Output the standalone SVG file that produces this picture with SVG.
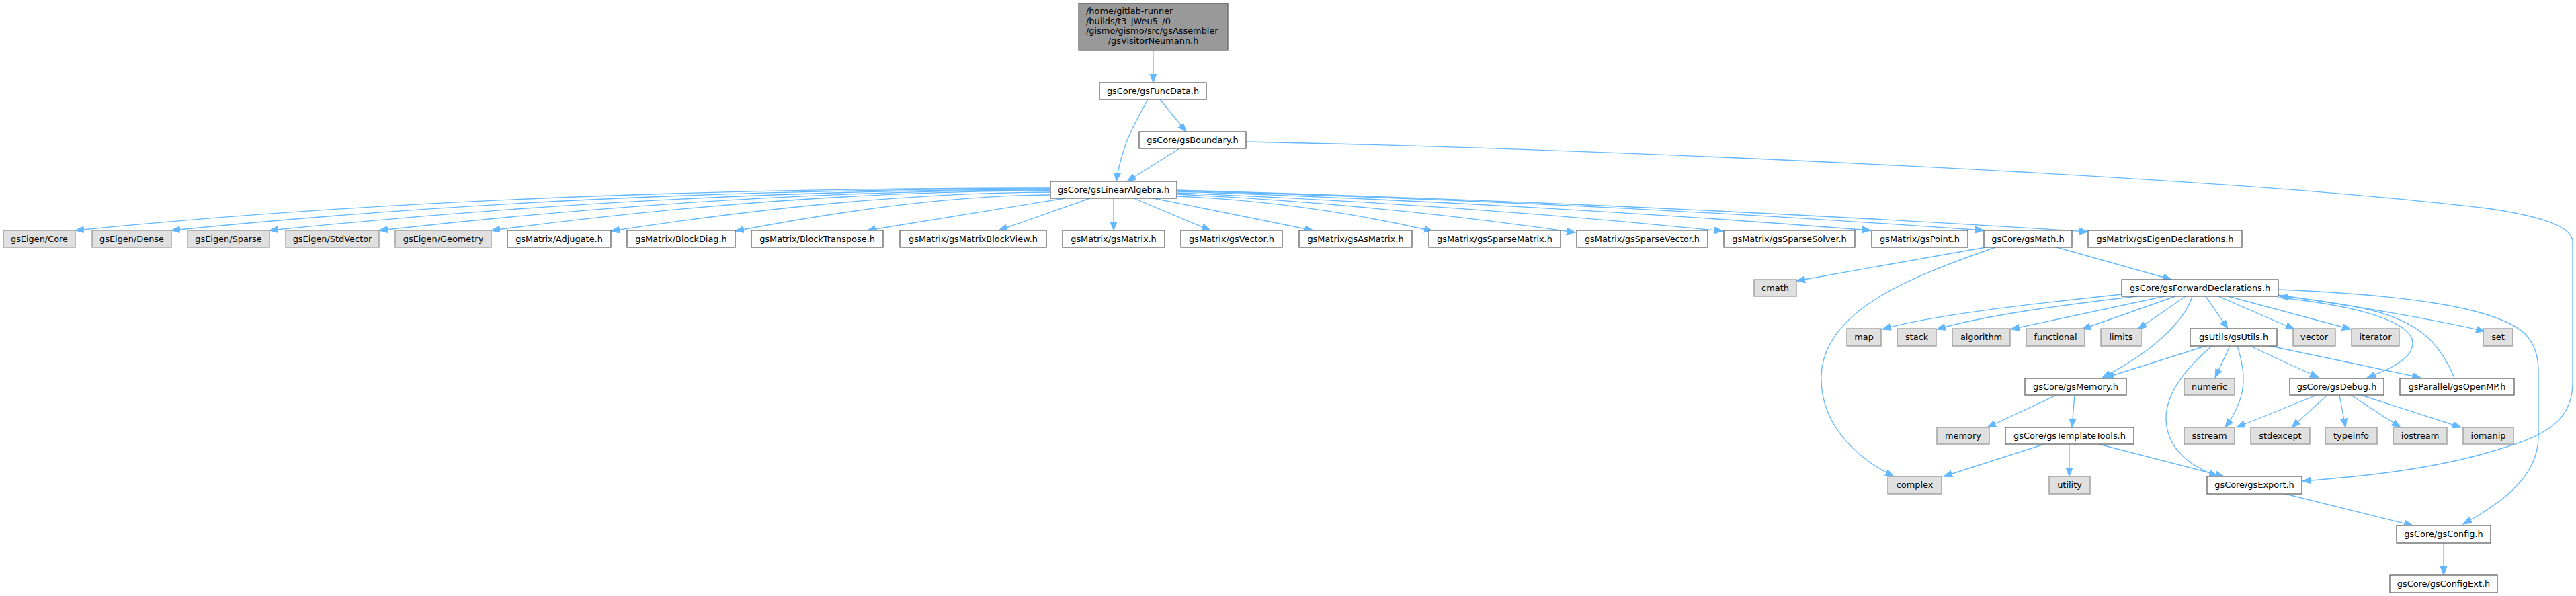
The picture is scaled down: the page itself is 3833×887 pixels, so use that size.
<svg xmlns="http://www.w3.org/2000/svg" width="3833" height="887" viewBox="0 0 3833 887">
<style>
text{font-family:"DejaVu Sans","Liberation Sans",sans-serif;font-size:12.9px;fill:#000;text-anchor:middle}
.n rect{fill:#fff;stroke:#666;stroke-width:1.33}
.x rect{fill:#e0e0e0;stroke:#999;stroke-width:1.33}
.r rect{fill:#999;stroke:#666;stroke-width:1.33}
#edges path{fill:none;stroke:#63b8ff;stroke-width:1.33;marker-end:url(#ah)}
</style>
<defs>
<marker id="ah" markerUnits="userSpaceOnUse" markerWidth="14" markerHeight="11" refX="13" refY="5" orient="auto">
<path d="M0,0 L13,5 L0,10 z" fill="#63b8ff" stroke="#63b8ff" stroke-width="1"/>
</marker>
</defs>
<rect width="3833" height="887" fill="#fff"/>
<g id="edges">
<path d="M1716,75 L1716,123"/>
<path d="M1708,148 C1690,180 1680,200 1675,215 C1668,235 1663,255 1661,270"/>
<path d="M1726,148 L1765,196"/>
<path d="M1755,221 L1677,270"/>
<path d="M1854,211 C2400,222 3300,262 3700,310 Q3828,328 3828,360 L3828,570 C3828,630 3780,650 3720,668 C3620,700 3500,710 3426,716"/>
<path d="M1563,280 Q742,280 112,343"/>
<path d="M1563,281 Q870,281 255,343"/>
<path d="M1563,282 Q1000,282 401,343"/>
<path d="M1563,283 Q1100,283 564,343"/>
<path d="M1563,284 Q1180,284 731,343"/>
<path d="M1563,286 Q1280,287 909,344"/>
<path d="M1563,290 Q1370,291 1094,344"/>
<path d="M1585,295 L1290,343"/>
<path d="M1622,295 L1486,343"/>
<path d="M1657,295 L1657,343"/>
<path d="M1687,295 L1801,343"/>
<path d="M1716,295 L1954,343"/>
<path d="M1751,292 Q1940,300 2132,344"/>
<path d="M1751,289 Q2047,303 2344,346"/>
<path d="M1751,287 Q2157,303 2564,344"/>
<path d="M1751,285 Q2267,302 2784,343"/>
<path d="M1751,284 Q2351,300 2952,343"/>
<path d="M1751,283 Q2429,302 3107,345"/>
<path d="M2955,368 L2673,418"/>
<path d="M2969,368 C2850,410 2712,460 2710,560 C2708,640 2775,688 2818,709"/>
<path d="M3060,368 L3231,416"/>
<path d="M3157,438 C3000,455 2870,470 2801,490"/>
<path d="M3180,441 C3060,455 2950,470 2882,490"/>
<path d="M3221,441 L2992,490"/>
<path d="M3237,441 L3098,490"/>
<path d="M3252,441 L3181,490"/>
<path d="M3282,441 L3315,489"/>
<path d="M3301,441 L3414,490"/>
<path d="M3315,441 L3498,490"/>
<path d="M3390,439 C3500,455 3620,475 3697,493"/>
<path d="M3262,441 C3250,480 3200,525 3128,562"/>
<path d="M3390,443 C3480,452 3570,470 3588,502 C3598,525 3570,545 3522,562"/>
<path d="M3652,562 C3630,510 3600,480 3530,462 C3480,450 3430,445 3392,441"/>
<path d="M3390,431 C3560,438 3720,455 3760,500 Q3777,520 3777,550 L3777,650 C3777,710 3720,750 3665,780"/>
<path d="M3282,515 L3133,562"/>
<path d="M3291,515 C3245,555 3222,590 3223,625 C3225,670 3262,695 3300,709"/>
<path d="M3318,515 L3296,562"/>
<path d="M3329,515 C3342,555 3345,590 3311,636"/>
<path d="M3348,515 L3450,562"/>
<path d="M3378,515 L3602,562"/>
<path d="M3060,588 L2957,636"/>
<path d="M3087,588 L3083,636"/>
<path d="M3042,661 L2892,709"/>
<path d="M3079,661 L3079,709"/>
<path d="M3123,661 L3309,709"/>
<path d="M3447,588 L3328,636"/>
<path d="M3463,588 L3410,636"/>
<path d="M3481,588 L3490,636"/>
<path d="M3498,588 L3572,636"/>
<path d="M3513,588 L3662,636"/>
<path d="M3400,735 L3590,782"/>
<path d="M3636,808 L3636,856"/>
</g>
<g id="root" class="r"><rect x="1605" y="5" width="222" height="70"/>
<text x="1616" y="21" style="text-anchor:start">/home/gitlab-runner</text>
<text x="1616" y="35.7" style="text-anchor:start">/builds/t3_JWeu5_/0</text>
<text x="1616" y="50.4" style="text-anchor:start">/gismo/gismo/src/gsAssembler</text>
<text x="1716" y="65">/gsVisitorNeumann.h</text></g>
<g id="funcdata" class="n"><rect x="1636" y="123" width="159" height="25"/><text x="1715.5" y="140">gsCore/gsFuncData.h</text></g>
<g id="boundary" class="n"><rect x="1695" y="196" width="159" height="25"/><text x="1774.5" y="213">gsCore/gsBoundary.h</text></g>
<g id="linalg" class="n"><rect x="1563" y="270" width="188" height="25"/><text x="1657" y="287">gsCore/gsLinearAlgebra.h</text></g>
<g id="eigcore" class="x"><rect x="5" y="343" width="107" height="25"/><text x="58.5" y="360">gsEigen/Core</text></g>
<g id="eigdense" class="x"><rect x="137" y="343" width="118" height="25"/><text x="196" y="360">gsEigen/Dense</text></g>
<g id="eigsparse" class="x"><rect x="279" y="343" width="122" height="25"/><text x="340" y="360">gsEigen/Sparse</text></g>
<g id="eigstd" class="x"><rect x="425" y="343" width="139" height="25"/><text x="494.5" y="360">gsEigen/StdVector</text></g>
<g id="eiggeo" class="x"><rect x="588" y="343" width="143" height="25"/><text x="659.5" y="360">gsEigen/Geometry</text></g>
<g id="adj" class="n"><rect x="755" y="343" width="154" height="25"/><text x="832" y="360">gsMatrix/Adjugate.h</text></g>
<g id="bdiag" class="n"><rect x="933" y="343" width="161" height="25"/><text x="1013.5" y="360">gsMatrix/BlockDiag.h</text></g>
<g id="btrans" class="n"><rect x="1118" y="343" width="196" height="25"/><text x="1216" y="360">gsMatrix/BlockTranspose.h</text></g>
<g id="mbv" class="n"><rect x="1339" y="343" width="218" height="25"/><text x="1448" y="360">gsMatrix/gsMatrixBlockView.h</text></g>
<g id="mat" class="n"><rect x="1581" y="343" width="152" height="25"/><text x="1657" y="360">gsMatrix/gsMatrix.h</text></g>
<g id="vec" class="n"><rect x="1757" y="343" width="151" height="25"/><text x="1832.5" y="360">gsMatrix/gsVector.h</text></g>
<g id="asmat" class="n"><rect x="1933" y="343" width="168" height="25"/><text x="2017" y="360">gsMatrix/gsAsMatrix.h</text></g>
<g id="spmat" class="n"><rect x="2126" y="343" width="196" height="25"/><text x="2224" y="360">gsMatrix/gsSparseMatrix.h</text></g>
<g id="spvec" class="n"><rect x="2346" y="343" width="195" height="25"/><text x="2443.5" y="360">gsMatrix/gsSparseVector.h</text></g>
<g id="spsol" class="n"><rect x="2565" y="343" width="195" height="25"/><text x="2662.5" y="360">gsMatrix/gsSparseSolver.h</text></g>
<g id="point" class="n"><rect x="2785" y="343" width="143" height="25"/><text x="2856.5" y="360">gsMatrix/gsPoint.h</text></g>
<g id="math" class="n"><rect x="2952" y="343" width="131" height="25"/><text x="3017.5" y="360">gsCore/gsMath.h</text></g>
<g id="eigdecl" class="n"><rect x="3107" y="343" width="229" height="25"/><text x="3221.5" y="360">gsMatrix/gsEigenDeclarations.h</text></g>
<g id="cmath" class="x"><rect x="2610" y="416" width="63" height="25"/><text x="2641.5" y="433">cmath</text></g>
<g id="fwd" class="n"><rect x="3157" y="416" width="233" height="25"/><text x="3273.5" y="433">gsCore/gsForwardDeclarations.h</text></g>
<g id="map" class="x"><rect x="2748" y="489" width="51" height="26"/><text x="2773.5" y="506">map</text></g>
<g id="stack" class="x"><rect x="2823" y="489" width="58" height="26"/><text x="2852" y="506">stack</text></g>
<g id="algorithm" class="x"><rect x="2905" y="489" width="86" height="26"/><text x="2948" y="506">algorithm</text></g>
<g id="functional" class="x"><rect x="3015" y="489" width="87" height="26"/><text x="3058.5" y="506">functional</text></g>
<g id="limits" class="x"><rect x="3126" y="489" width="60" height="26"/><text x="3156" y="506">limits</text></g>
<g id="utils" class="n"><rect x="3259" y="489" width="129" height="26"/><text x="3323.5" y="506">gsUtils/gsUtils.h</text></g>
<g id="vector" class="x"><rect x="3412" y="489" width="63" height="26"/><text x="3443.5" y="506">vector</text></g>
<g id="iterator" class="x"><rect x="3499" y="489" width="71" height="26"/><text x="3534.5" y="506">iterator</text></g>
<g id="set" class="x"><rect x="3695" y="489" width="44" height="26"/><text x="3717" y="506">set</text></g>
<g id="memoryh" class="n"><rect x="3013" y="563" width="151" height="25"/><text x="3088.5" y="580">gsCore/gsMemory.h</text></g>
<g id="numeric" class="x"><rect x="3250" y="563" width="75" height="25"/><text x="3287.5" y="580">numeric</text></g>
<g id="debug" class="n"><rect x="3407" y="563" width="140" height="25"/><text x="3477" y="580">gsCore/gsDebug.h</text></g>
<g id="openmp" class="n"><rect x="3571" y="563" width="170" height="25"/><text x="3656" y="580">gsParallel/gsOpenMP.h</text></g>
<g id="memory" class="x"><rect x="2882" y="636" width="78" height="25"/><text x="2921" y="653">memory</text></g>
<g id="templ" class="n"><rect x="2984" y="636" width="191" height="25"/><text x="3079.5" y="653">gsCore/gsTemplateTools.h</text></g>
<g id="sstream" class="x"><rect x="3250" y="636" width="75" height="25"/><text x="3287.5" y="653">sstream</text></g>
<g id="stdexcept" class="x"><rect x="3349" y="636" width="88" height="25"/><text x="3393" y="653">stdexcept</text></g>
<g id="typeinfo" class="x"><rect x="3460" y="636" width="77" height="25"/><text x="3498.5" y="653">typeinfo</text></g>
<g id="iostream" class="x"><rect x="3561" y="636" width="80" height="25"/><text x="3601" y="653">iostream</text></g>
<g id="iomanip" class="x"><rect x="3665" y="636" width="75" height="25"/><text x="3702.5" y="653">iomanip</text></g>
<g id="complex" class="x"><rect x="2809" y="709" width="80" height="26"/><text x="2849" y="726">complex</text></g>
<g id="utility" class="x"><rect x="3049" y="709" width="61" height="26"/><text x="3079.5" y="726">utility</text></g>
<g id="export" class="n"><rect x="3284" y="709" width="141" height="26"/><text x="3354.5" y="726">gsCore/gsExport.h</text></g>
<g id="config" class="n"><rect x="3566" y="782" width="140" height="26"/><text x="3636" y="799">gsCore/gsConfig.h</text></g>
<g id="configext" class="n"><rect x="3556" y="856" width="160" height="26"/><text x="3636" y="873">gsCore/gsConfigExt.h</text></g>
</svg>
